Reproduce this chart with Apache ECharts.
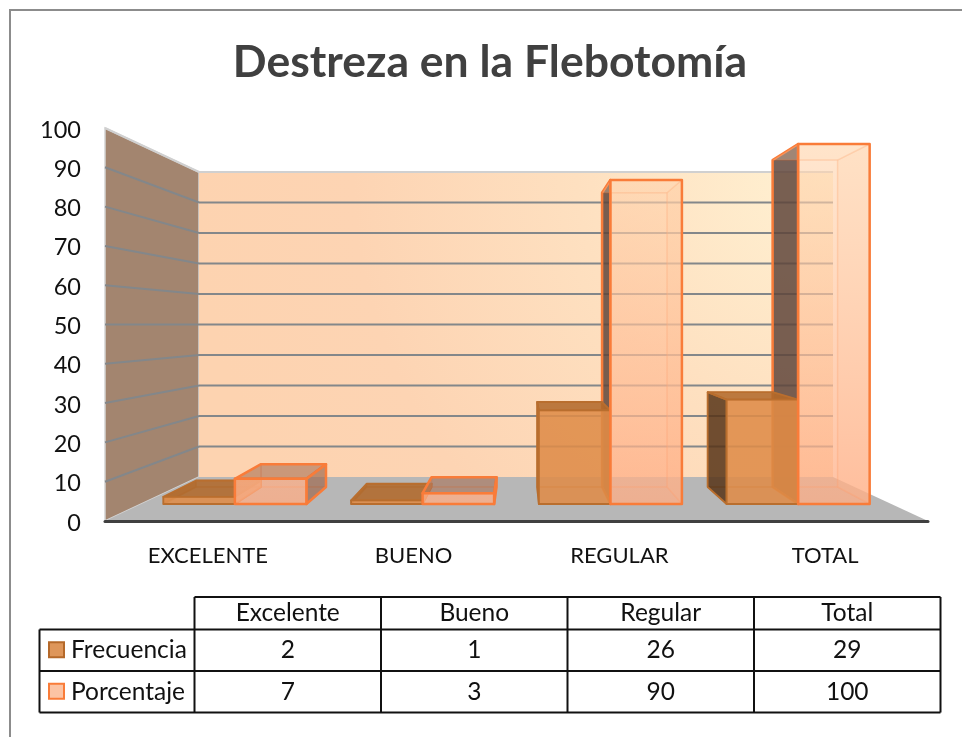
<!DOCTYPE html>
<html>
<head>
<meta charset="utf-8">
<script src="https://cdn.jsdelivr.net/npm/echarts@6/dist/echarts.min.js"></script>
<style>
  html, body { margin: 0; padding: 0; background: #fff; }
  #main { width: 962px; height: 737px; }
</style>
</head>
<body>
<div id="main"></div>
<script>
var categorias = ['EXCELENTE', 'BUENO', 'REGULAR', 'TOTAL'];
var encabezados = ['Excelente', 'Bueno', 'Regular', 'Total'];
var frecuencia = [2, 1, 26, 29];
var porcentaje = [7, 3, 90, 100];
var marcasY = [0, 10, 20, 30, 40, 50, 60, 70, 80, 90, 100];

var FONT = 'Lato, "Noto Sans", sans-serif';

// pared del fondo (pixeles) y punto de fuga de las barras
var fondo = { left: 199, right: 833, top: 172, bottom: 477 };
var fuga = { x: 520, y: 319, k: 0.0917 };
var anchoBarra = 0.381;

function proyectar(p) {
  return [p[0] + (fuga.x - p[0]) * fuga.k, p[1] + (fuga.y - p[1]) * fuga.k];
}

function cara(puntos, fill, stroke, ancho, z2) {
  return {
    type: 'polygon',
    z2: z2,
    shape: { points: puntos },
    style: { fill: fill, stroke: stroke, lineWidth: ancho, lineJoin: 'round' }
  };
}

var estilos = {
  Frecuencia: {
    lado: -1,
    frente: 'rgba(222,140,72,0.86)',
    borde: '#b96e2e',
    grueso: 1.8,
    debil: 'rgba(181,105,42,0.35)',
    atras: 'rgba(222,140,72,0.12)',
    interior: 'rgba(190,108,46,0.6)',
    izq: 'rgba(82,48,20,0.82)',
    der: 'rgba(196,116,52,0.72)',
    arriba: 'rgba(176,104,42,0.85)',
    debajo: 'rgba(222,140,72,0.2)'
  },
  Porcentaje: {
    lado: 1,
    borde: '#f97c39',
    grueso: 2.5,
    debil: 'rgba(249,124,57,0.22)',
    atras: 'rgba(255,200,160,0.12)',
    izq: 'rgba(90,65,55,0.82)',
    der: 'rgba(150,95,70,0.62)',
    arriba: 'rgba(160,105,80,0.55)',
    debajo: 'rgba(255,215,180,0.3)',
    interior: 'rgba(255,195,150,0.32)'
  }
};

function dibujarBarra(nombre) {
  var e = estilos[nombre];
  return function (params, api) {
    var i = api.value(0);
    var base = api.coord([i, 0]);
    var tope = api.coord([i, api.value(1)]);
    var y100 = api.coord([i, 100])[1];
    var banda = api.size([1, 0])[0];
    var x0 = e.lado < 0 ? base[0] - banda * anchoBarra : base[0];
    var x1 = e.lado < 0 ? base[0] : base[0] + banda * anchoBarra;
    var yT = tope[1], yB = base[1];

    var a = [x0, yT], b = [x1, yT], c = [x1, yB], d = [x0, yB];
    var a2 = proyectar(a), b2 = proyectar(b), c2 = proyectar(c), d2 = proyectar(d);

    // las barras mas lejos del centro se pintan primero
    var orden = Math.round(1000 - Math.abs((x0 + x1) / 2 - fuga.x)) * 10;

    var relleno = e.frente || new echarts.graphic.LinearGradient(0, y100, 0, yB, [
      { offset: 0, color: 'rgba(255,216,178,0.55)' },
      { offset: 1, color: 'rgba(255,172,132,0.72)' }
    ], true);

    var hijos = [
      cara([a2, b2, c2, d2], e.atras, e.debil, 1.5, orden),
      cara([d2, c2, c, d], e.atras, e.debil, 1.5, orden + 1)
    ];
    if (x0 > fuga.x) {
      hijos.push(cara([b2, b, c, c2], e.interior, e.debil, 1.5, orden + 2));
      hijos.push(cara([a2, a, d, d2], e.izq, e.borde, e.grueso, orden + 3));
    } else {
      hijos.push(cara([a2, a, d, d2], e.interior, e.debil, 1.5, orden + 2));
      hijos.push(cara([b2, b, c, c2], e.der, e.borde, e.grueso, orden + 3));
    }
    if (yT > fuga.y) {
      hijos.push(cara([a2, b2, b, a], e.arriba, e.borde, e.grueso, orden + 4));
    } else {
      hijos.push(cara([a2, b2, b, a], e.debajo, e.debil, 1.5, orden + 4));
    }
    // el frente de Porcentaje queda siempre encima
    hijos.push(cara([a, b, c, d], relleno, e.borde, e.grueso, nombre === 'Porcentaje' ? 99999 : orden + 5));
    return { type: 'group', children: hijos };
  };
}

function dibujarParedes(params, api) {
  var v = api.value(1);
  var cs = params.coordSys;
  var y = api.coord([0, v])[1];
  var x = cs.x;
  var abajo = cs.y + cs.height;
  var yFondo = fondo.bottom - (abajo - y) * (fondo.bottom - fondo.top) / cs.height;
  var hijos = [];
  if (v === 0) {
    hijos.push({
      type: 'polygon', z2: 1,
      shape: { points: [[cs.x, cs.y], [fondo.left, fondo.top], [fondo.left, fondo.bottom], [cs.x, abajo]] },
      style: { fill: '#a3856f', stroke: '#d4d4d4', lineWidth: 1.5 }
    });
    hijos.push({
      type: 'polygon', z2: 1,
      shape: { points: [[fondo.left, fondo.top], [fondo.right, fondo.top], [fondo.right, fondo.bottom], [fondo.left, fondo.bottom]] },
      style: {
        fill: new echarts.graphic.RadialGradient(fondo.right, fondo.top, 640, [
          { offset: 0, color: '#fff2d3' },
          { offset: 0.4, color: '#fee0c0' },
          { offset: 0.75, color: '#fdd4b3' },
          { offset: 1, color: '#fdd3b0' }
        ], true)
      }
    });
    hijos.push({
      type: 'polygon', z2: 2,
      shape: { points: [[cs.x, abajo], [fondo.left, fondo.bottom], [fondo.right, fondo.bottom], [cs.x + cs.width, abajo]] },
      style: { fill: '#b7b7b7' }
    });
    return { type: 'group', children: hijos };
  }
  var color = v === 100 ? '#d0d0d0' : '#83878a';
  hijos.push({
    type: 'line', z2: 3,
    shape: { x1: x, y1: y, x2: fondo.left, y2: yFondo },
    style: { stroke: color, lineWidth: 2 }
  });
  hijos.push({
    type: 'line', z2: 3,
    shape: { x1: fondo.left, y1: yFondo, x2: fondo.right, y2: yFondo },
    style: { stroke: color, lineWidth: 2 }
  });
  return { type: 'group', children: hijos };
}

// tabla de datos de abajo
function armarTabla() {
  var cols = [194.5, 381, 567.5, 754, 940.5];
  var filas = [597, 629.5, 671, 712.5];
  var izq = 39.5;
  var g = [];
  function linea(x1, y1, x2, y2) {
    g.push({ type: 'line', shape: { x1: x1, y1: y1, x2: x2, y2: y2 }, style: { stroke: '#111', lineWidth: 2 } });
  }
  function texto(t, x, y, align) {
    g.push({ type: 'text', style: { text: t, x: x, y: y, align: align, verticalAlign: 'middle', fill: '#111', font: '24.5px ' + FONT } });
  }
  linea(cols[0], filas[0], cols[4], filas[0]);
  linea(izq, filas[1], cols[4], filas[1]);
  linea(izq, filas[2], cols[4], filas[2]);
  linea(izq, filas[3], cols[4], filas[3]);
  linea(izq, filas[1], izq, filas[3]);
  cols.forEach(function (x) { linea(x, filas[0], x, filas[3]); });

  encabezados.forEach(function (t, i) {
    texto(t, (cols[i] + cols[i + 1]) / 2, (filas[0] + filas[1]) / 2, 'center');
  });
  [['Frecuencia', frecuencia, 'rgba(222,150,90,1)', '#b5692a'], ['Porcentaje', porcentaje, '#fcc4a4', '#f97c39']].forEach(function (f, r) {
    var yc = (filas[r + 1] + filas[r + 2]) / 2;
    g.push({ type: 'rect', shape: { x: 49, y: yc - 8, width: 15, height: 15 }, style: { fill: f[2], stroke: f[3], lineWidth: 2 } });
    texto(f[0], 71, yc, 'left');
    f[1].forEach(function (v, i) {
      texto(String(v), (cols[i] + cols[i + 1]) / 2, yc, 'center');
    });
  });
  // marco del grafico
  g.push({ type: 'polyline', shape: { points: [[10, 737], [10, 10], [962, 10]] }, style: { fill: 'none', stroke: '#8c8c8c', lineWidth: 2 } });
  return g;
}

var chart = echarts.init(document.getElementById('main'));
chart.setOption({
  animation: false,
  backgroundColor: '#fff',
  textStyle: { fontFamily: FONT },
  title: {
    text: 'Destreza en la Flebotomía',
    left: 485,
    top: 35,
    textAlign: 'center',
    textStyle: { fontFamily: FONT, fontSize: 44.5, fontWeight: 'bold', color: '#404040' }
  },
  grid: [
    { left: 105, right: 34, top: 128, bottom: 216 },
    { left: 141, right: 70, top: 144, bottom: 233 }
  ],
  xAxis: [
    {
      gridIndex: 0, type: 'category', data: categorias, z: 5,
      axisLine: { lineStyle: { color: '#404040', width: 3 } },
      axisTick: { show: false },
      axisLabel: { color: '#111', fontSize: 22, margin: 24, fontFamily: FONT }
    },
    { gridIndex: 1, type: 'category', data: categorias, show: false }
  ],
  yAxis: [
    {
      gridIndex: 0, type: 'value', min: 0, max: 100, interval: 10,
      axisLine: { show: false }, axisTick: { show: false }, splitLine: { show: false },
      axisLabel: { color: '#111', fontSize: 23.5, margin: 24, verticalAlign: 'top', lineHeight: 4, fontFamily: FONT }
    },
    { gridIndex: 1, type: 'value', min: 0, max: 100, interval: 10, show: false, splitLine: { show: false } }
  ],
  graphic: { elements: armarTabla() },
  series: [
    {
      name: 'Paredes', type: 'custom', xAxisIndex: 0, yAxisIndex: 0, z: 1, silent: true,
      clip: false,
      data: marcasY.map(function (v) { return [0, v]; }),
      encode: { x: 0, y: 1 },
      renderItem: dibujarParedes
    },
    {
      name: 'Frecuencia', type: 'custom', xAxisIndex: 1, yAxisIndex: 1, z: 3, silent: true,
      clip: false,
      data: frecuencia.map(function (v, i) { return [i, v]; }),
      encode: { x: 0, y: 1 },
      renderItem: dibujarBarra('Frecuencia')
    },
    {
      name: 'Porcentaje', type: 'custom', xAxisIndex: 1, yAxisIndex: 1, z: 3, silent: true,
      clip: false,
      data: porcentaje.map(function (v, i) { return [i, v]; }),
      encode: { x: 0, y: 1 },
      renderItem: dibujarBarra('Porcentaje')
    }
  ]
});
</script>
</body>
</html>
